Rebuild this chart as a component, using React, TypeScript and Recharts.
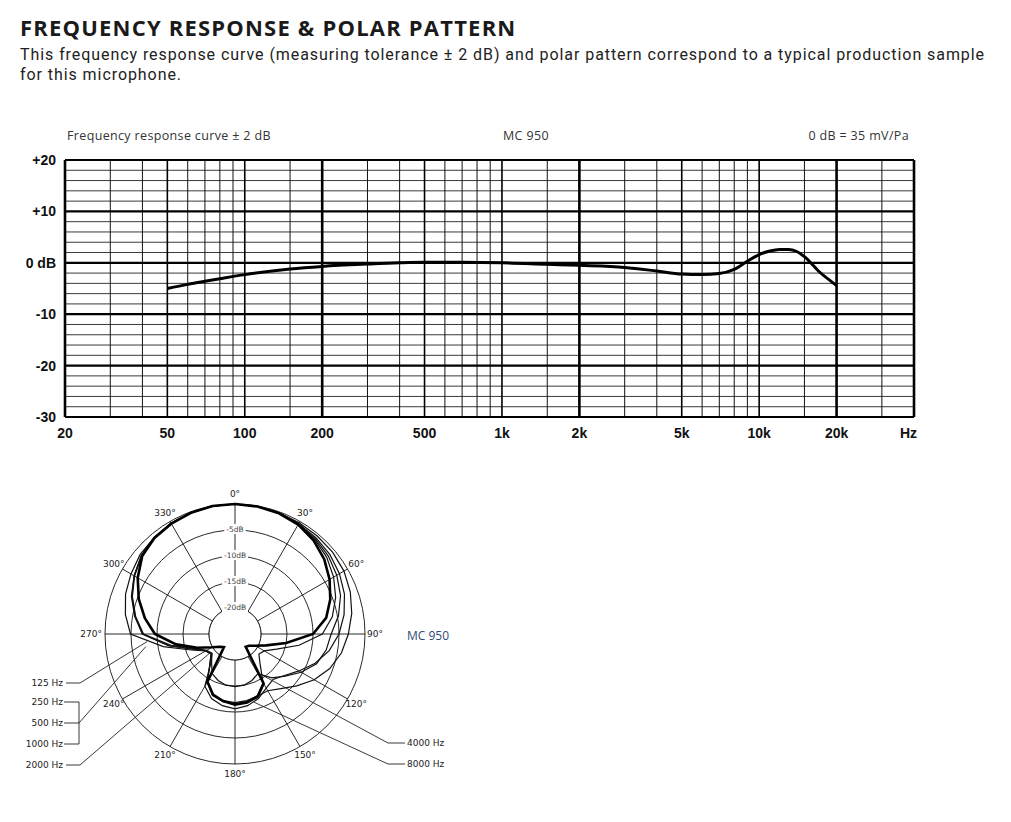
import React from 'react';
import {
  LineChart, Line, XAxis, YAxis, ReferenceLine,
  RadarChart, Radar, PolarGrid, PolarAngleAxis, PolarRadiusAxis,
} from 'recharts';

// ---- frequency response ----
const freqHz = [50, 60, 70, 80, 100, 150, 200, 300, 400, 500, 700, 1000, 1500, 2000, 3000, 4000, 5000, 6000, 7000, 8000, 9000, 10000, 11000, 12000, 13000, 14000, 15000, 17000, 20000];
const responseDb = [-5.0, -4.2, -3.6, -3.1, -2.3, -1.2, -0.7, -0.25, 0, 0.1, 0.1, 0, -0.3, -0.5, -0.9, -1.6, -2.2, -2.3, -2.1, -1.3, 0.3, 1.6, 2.3, 2.6, 2.6, 2.2, 1.2, -1.6, -4.4];

const freqTicks = [20, 50, 100, 200, 500, 1000, 2000, 5000, 10000, 20000, 40000];
const freqTickLabels = ['20', '50', '100', '200', '500', '1k', '2k', '5k', '10k', '20k', 'Hz'];
const dbTicks = [-30, -20, -10, 0, 10, 20];
const dbTickLabels = ['-30', '-20', '-10', '0 dB', '+10', '+20'];

const minorFreqLines = [30, 40, 60, 70, 80, 90, 150, 300, 400, 600, 700, 800, 900, 1500, 3000, 4000, 6000, 7000, 8000, 9000, 15000, 30000];
const mediumFreqLines = [50, 100, 500, 1000, 5000, 10000];
const majorFreqLines = [20, 200, 2000, 20000, 40000];
const minorDbLines = [-28, -26, -24, -22, -18, -16, -14, -12, -8, -6, -4, -2, 2, 4, 6, 8, 12, 14, 16, 18];
const majorDbLines = [-30, -20, -10, 0, 10, 20];

// ---- polar pattern, dB relative to 0 deg, every 10 deg clockwise from front ----
const polarAngles = [0, 10, 20, 30, 40, 50, 60, 70, 80, 90, 100, 110, 120, 130, 140, 150, 160, 170, 180, 190, 200, 210, 220, 230, 240, 250, 260, 270, 280, 290, 300, 310, 320, 330, 340, 350];
const hzMid = [0, -0.1, -0.3, -0.7, -1.5, -2.6, -4.0, -5.5, -7.2, -10.0, -15.0, -18.6, -20.5, -21.5, -21.8, -14.0, -12.2, -11.6, -11.4, -11.9, -12.6, -14.4, -21.7, -21.2, -19.9, -17.3, -13.5, -9.6, -7.4, -5.3, -3.4, -1.7, -0.9, -0.5, -0.2, 0];
const hz125 = [0, -0.1, -0.2, -0.3, -0.4, -0.5, -0.8, -1.4, -2.2, -3.2, -4.2, -5.6, -7.4, -9.5, -11.3, -12.4, -12.3, -12.0, -11.8, -12.0, -12.5, -14.4, -17.5, -19.0, -18.5, -16.0, -11.0, -4.9, -3.6, -2.6, -1.9, -1.2, -0.8, -0.5, -0.2, -0.1];
const hz2000 = [0, -0.1, -0.3, -0.6, -1.2, -2.0, -3.1, -4.4, -6.0, -8.2, -12.5, -16.5, -18.5, -19.0, -17.5, -14.2, -12.4, -11.8, -11.6, -11.8, -12.4, -14.4, -17.5, -19.0, -18.5, -16.5, -12.0, -7.2, -5.5, -3.9, -2.6, -1.5, -0.8, -0.4, -0.2, 0];
const hz4000 = [0, -0.1, -0.3, -0.6, -1.0, -1.6, -2.4, -3.4, -4.8, -6.5, -7.2, -8.3, -10.3, -12.4, -14.0, -16.2, -15.5, -15.0, -14.9, -15.0, -15.5, -16.2, -18.0, -19.2, -18.7, -16.8, -12.5, -7.4, -5.6, -4.0, -2.7, -1.6, -0.9, -0.4, -0.2, 0];
const hz8000 = [0, -0.1, -0.2, -0.5, -0.8, -1.2, -1.8, -2.6, -3.7, -5.0, -6.6, -8.6, -10.8, -12.6, -13.6, -13.0, -11.8, -11.0, -10.6, -11.0, -11.8, -13.4, -17.8, -19.2, -18.6, -16.5, -12.2, -7.2, -5.4, -3.8, -2.6, -1.5, -0.8, -0.4, -0.2, 0];
const angleLabels = [0, 30, 60, 90, 120, 150, 180, 210, 240, 270, 300, 330];
const ringDb = [-20, -15, -10, -5];
const INNER_DB = -20;

// polar geometry (chart coords)
const PW = 480;
const PH = 330;
const PTOP = 470;
const CX = 235;
const CY = 164;
const OUTER_R = 130;
const DB_MIN = -25;
const pxPerDb = OUTER_R / -DB_MIN;

const toPage = (angle: number, db: number) => {
  const r = (db - DB_MIN) * pxPerDb;
  const a = (angle * Math.PI) / 180;
  return [CX + r * Math.sin(a), PTOP + CY - r * Math.cos(a)];
};

const monoFont = 'DejaVu Sans, sans-serif';

const FreqTick = (props: any) => {
  const { x, y, payload } = props;
  const i = freqTicks.indexOf(payload.value);
  const isUnit = payload.value === 40000;
  return (
    <text x={isUnit ? x + 3 : x} y={y + 16} textAnchor={isUnit ? 'end' : 'middle'} dominantBaseline="central"
      fontFamily="Liberation Sans, Arial, sans-serif" fontWeight={700} fontSize={14} fill="#111">
      {freqTickLabels[i]}
    </text>
  );
};

const DbTick = (props: any) => {
  const { x, y, payload } = props;
  const i = dbTicks.indexOf(payload.value);
  return (
    <text x={x} y={y} textAnchor="end" dominantBaseline="central"
      fontFamily="Liberation Sans, Arial, sans-serif" fontWeight={700} fontSize={14} fill="#111">
      {dbTickLabels[i]}
    </text>
  );
};

const AngleTick = (props: any) => {
  const a = Number(props.payload.value);
  if (!angleLabels.includes(a)) return null;
  let r = 140;
  let anchor: 'middle' | 'start' | 'end' = 'middle';
  if (a === 90) { r = 132; anchor = 'start'; }
  if (a === 270) { r = 133; anchor = 'end'; }
  const rad = (a * Math.PI) / 180;
  return (
    <text x={CX + r * Math.sin(rad)} y={CY - r * Math.cos(rad)} textAnchor={anchor} dominantBaseline="central"
      fontFamily={monoFont} fontSize={9} fill="#222">
      {a}°
    </text>
  );
};

const RingTick = (props: any) => {
  const v = Number(props.payload.value);
  if (!ringDb.includes(v)) return null;
  const label = `${v}dB`;
  const y = CY - (v - DB_MIN) * pxPerDb - 1;
  const w = label.length * 4.6 + 3;
  return (
    <g>
      <rect x={CX - w / 2} y={y - 5} width={w} height={10} fill="#fff" />
      <text x={CX} y={y} textAnchor="middle" dominantBaseline="central" fontFamily={monoFont} fontSize={7.5} fill="#444">
        {label}
      </text>
    </g>
  );
};

const headerText = { position: 'absolute' as const, top: 127, fontFamily: 'Open Sans, sans-serif', fontSize: 12.5, letterSpacing: 0.35, color: '#333' };

const App = () => {
  const freqData = freqHz.map((hz, i) => ({ hz, db: responseDb[i] }));
  const polarData = polarAngles.map((angle, i) => ({
    angle,
    inner: INNER_DB,
    hzMid: hzMid[i],
    hz125: hz125[i],
    hz2000: hz2000[i],
    hz4000: hz4000[i],
    hz8000: hz8000[i],
  }));

  // leader line anchors on the curves
  const p125 = toPage(265, -8.0);
  const pMid = toPage(262, -7.7);
  const p2000 = toPage(233, -18.9);
  const p4000 = toPage(149, -16.2);
  const p8000 = toPage(164.5, -11.4);

  const smallLabel = { fontFamily: monoFont, fontSize: 9, fill: '#222' };

  return (
    <div style={{ position: 'absolute', left: 0, top: 0, width: 1011, height: 822, background: '#fff', overflow: 'hidden' }}>
      <div style={{ position: 'absolute', left: 20, top: 13, fontFamily: 'Open Sans, sans-serif', fontWeight: 700, fontSize: 22, lineHeight: '28px', letterSpacing: 1.2, color: '#1a1a1a', whiteSpace: 'nowrap' }}>
        FREQUENCY RESPONSE &amp; POLAR PATTERN
      </div>
      <div style={{ position: 'absolute', left: 20, top: 45, width: 980, fontFamily: 'Roboto, sans-serif', fontSize: 16, lineHeight: '20px', letterSpacing: 0.93, color: '#222' }}>
        This frequency response curve (measuring tolerance ± 2 dB) and polar pattern correspond to a typical production sample for this microphone.
      </div>

      <div style={{ ...headerText, left: 67 }}>Frequency response curve ± 2 dB</div>
      <div style={{ ...headerText, left: 503 }}>MC 950</div>
      <div style={{ ...headerText, right: 1011 - 909 }}>0 dB = 35 mV/Pa</div>

      <div style={{ position: 'absolute', left: 0, top: 120 }}>
        <LineChart width={940} height={340} data={freqData} margin={{ top: 40, right: 26, bottom: 13, left: 5 }}>
          <XAxis dataKey="hz" type="number" scale="log" domain={[20, 40000]} ticks={freqTicks} allowDataOverflow
            height={30} tickLine={false} axisLine={false} tickSize={0} tickMargin={0} tick={<FreqTick />} interval={0} />
          <YAxis type="number" domain={[-30, 20]} ticks={dbTicks} allowDataOverflow width={60}
            tickLine={false} axisLine={false} tickSize={0} tickMargin={9} tick={<DbTick />} interval={0} />
          {minorDbLines.map(v => <ReferenceLine key={`hm${v}`} y={v} stroke="#3a3a3a" strokeWidth={1} />)}
          {minorFreqLines.map(v => <ReferenceLine key={`vm${v}`} x={v} stroke="#111" strokeWidth={1} />)}
          {mediumFreqLines.map(v => <ReferenceLine key={`vd${v}`} x={v} stroke="#000" strokeWidth={1.6} />)}
          {majorFreqLines.map(v => <ReferenceLine key={`vM${v}`} x={v} stroke="#000" strokeWidth={2.6} />)}
          {majorDbLines.map(v => <ReferenceLine key={`hM${v}`} y={v} stroke="#000" strokeWidth={2.2} />)}
          <Line type="monotone" dataKey="db" stroke="#000" strokeWidth={3} dot={false} isAnimationActive={false} />
        </LineChart>
      </div>

      <div style={{ position: 'absolute', left: 0, top: PTOP }}>
        <RadarChart width={PW} height={PH} data={polarData} cx={CX} cy={CY} outerRadius={OUTER_R} margin={{ top: 0, right: 0, bottom: 0, left: 0 }}>
          <PolarGrid gridType="circle" polarRadius={[26, 52, 78, 104, 130]} polarAngles={[0, 30, 60, 90, 120, 150, 180, 210, 240, 270, 300, 330]}
            stroke="#111" strokeWidth={0.9} />
          <Radar dataKey="inner" stroke="#111" strokeWidth={0.9} fill="#fff" fillOpacity={1} dot={false} isAnimationActive={false} />
          <PolarAngleAxis dataKey="angle" tick={<AngleTick />} tickLine={false} axisLine={false} />
          <PolarRadiusAxis angle={90} domain={[DB_MIN, 0]} ticks={[-25, -20, -15, -10, -5, 0]} tick={<RingTick />}
            axisLine={false} tickLine={false} />
          <Radar dataKey="hz125" stroke="#111" strokeWidth={1.2} fill="none" fillOpacity={0} dot={false} isAnimationActive={false} />
          <Radar dataKey="hz2000" stroke="#111" strokeWidth={1.2} fill="none" fillOpacity={0} dot={false} isAnimationActive={false} />
          <Radar dataKey="hz4000" stroke="#111" strokeWidth={1.2} fill="none" fillOpacity={0} dot={false} isAnimationActive={false} />
          <Radar dataKey="hz8000" stroke="#111" strokeWidth={1.2} fill="none" fillOpacity={0} dot={false} isAnimationActive={false} />
          <Radar dataKey="hzMid" stroke="#000" strokeWidth={2.6} fill="none" fillOpacity={0} dot={false} isAnimationActive={false} />
        </RadarChart>
      </div>

      <svg width={1011} height={822} style={{ position: 'absolute', left: 0, top: 0, pointerEvents: 'none' }}>
        <g stroke="#222" strokeWidth={0.9} fill="none">
          <polyline points={`66,683 80,683 ${p125[0]},${p125[1]}`} />
          <polyline points={`64,702 79,702 79,744 64,744`} />
          <polyline points={`64,723 79,723 ${pMid[0]},${pMid[1]}`} />
          <polyline points={`66,765 80,765 ${p2000[0]},${p2000[1]}`} />
          <polyline points={`405,743 388,743 ${p4000[0]},${p4000[1]}`} />
          <polyline points={`405,764 388,764 ${p8000[0]},${p8000[1]}`} />
        </g>
        <text x={63} y={683} textAnchor="end" dominantBaseline="central" {...smallLabel}>125 Hz</text>
        <text x={63} y={702} textAnchor="end" dominantBaseline="central" {...smallLabel}>250 Hz</text>
        <text x={63} y={723} textAnchor="end" dominantBaseline="central" {...smallLabel}>500 Hz</text>
        <text x={63} y={744} textAnchor="end" dominantBaseline="central" {...smallLabel}>1000 Hz</text>
        <text x={63} y={765} textAnchor="end" dominantBaseline="central" {...smallLabel}>2000 Hz</text>
        <text x={407} y={743} dominantBaseline="central" {...smallLabel}>4000 Hz</text>
        <text x={407} y={764} dominantBaseline="central" {...smallLabel}>8000 Hz</text>
        <text x={407} y={635} dominantBaseline="central" fontFamily="Open Sans, sans-serif" fontSize={12} fill="#2f4a78">MC 950</text>
      </svg>
    </div>
  );
};

export default App;
